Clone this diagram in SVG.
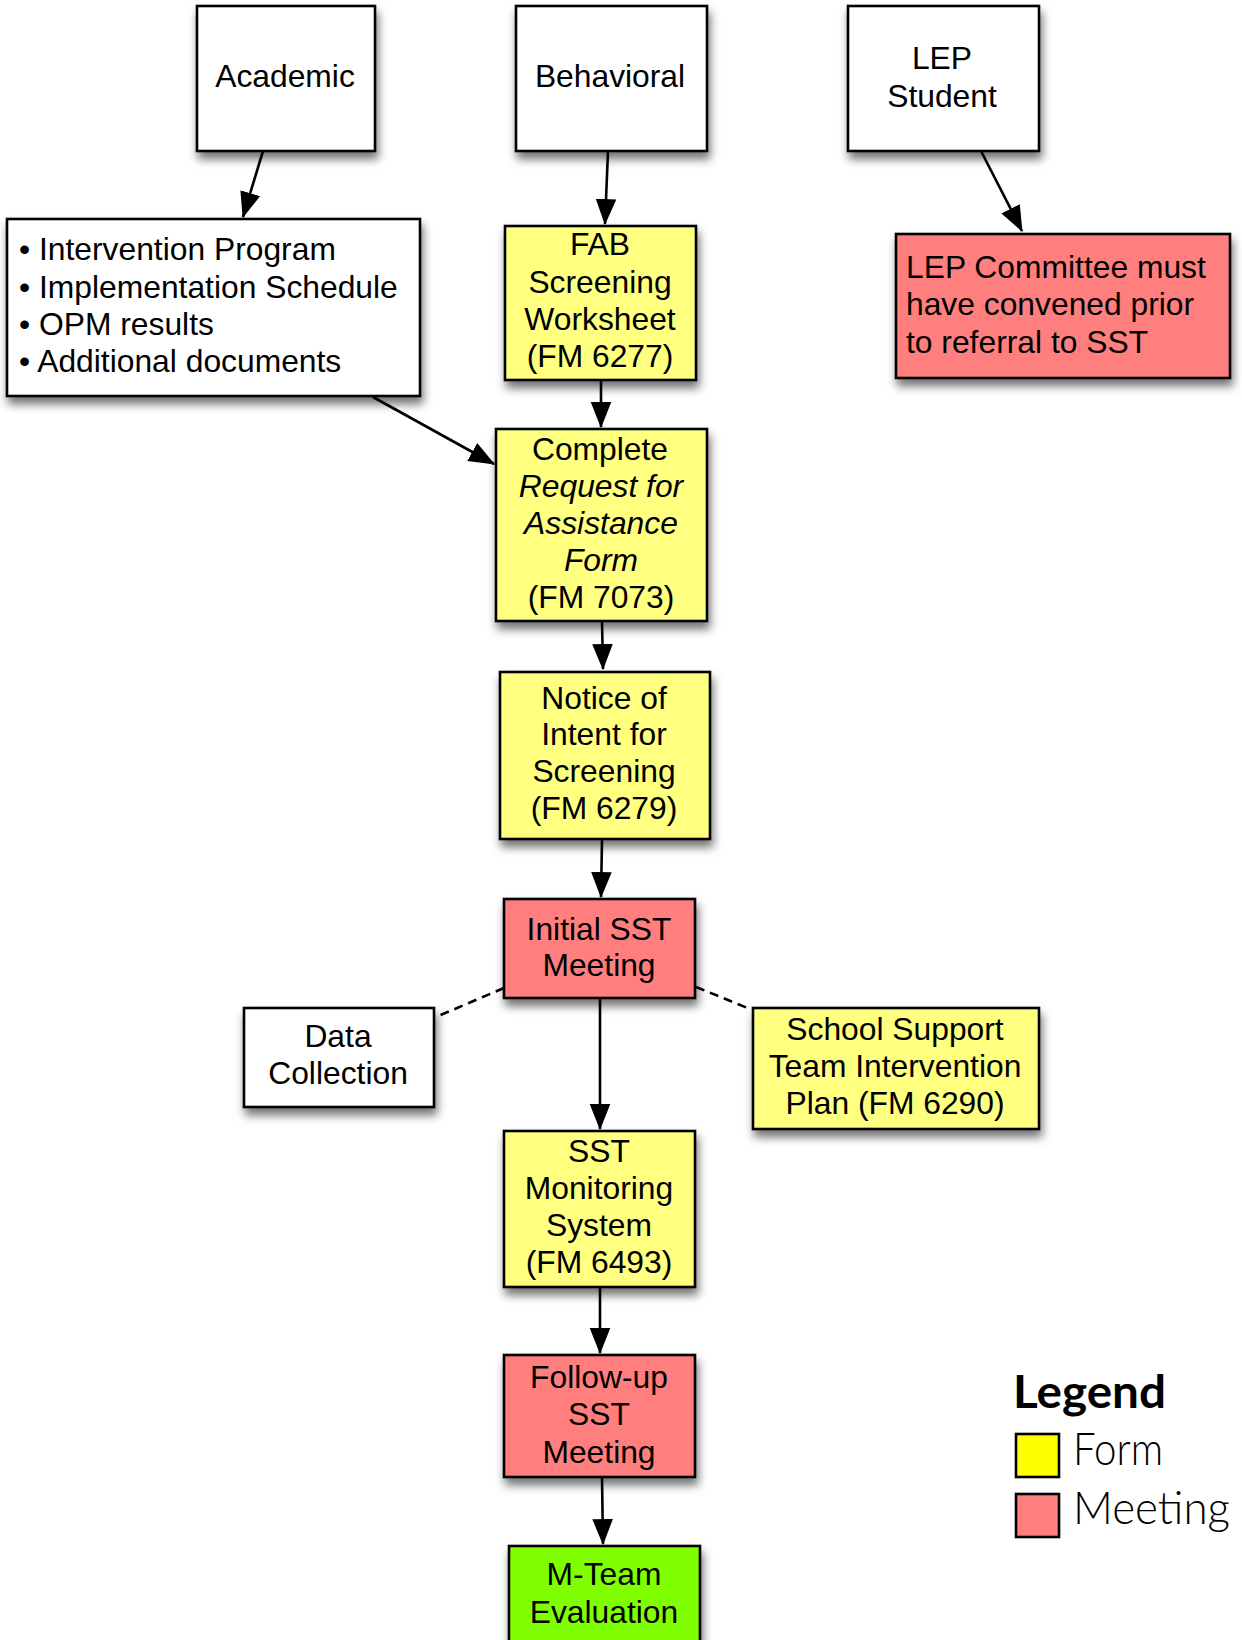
<svg xmlns="http://www.w3.org/2000/svg" width="1242" height="1640" viewBox="0 0 1242 1640">
<style>
.box{stroke:#000;stroke-width:2.6;filter:url(#sh)}
.w{fill:#fff}.y{fill:#FFFF80}.r{fill:#FF7F7F}.g{fill:#80FF00}
text{font-family:"Liberation Sans",Arial,sans-serif;font-size:31.8px;fill:#000}
.c{text-anchor:middle}
.i{font-style:italic}
.ln{stroke:#000;stroke-width:2.6;fill:none;marker-end:url(#ah)}
.dl{stroke:#000;stroke-width:2.6;fill:none;stroke-dasharray:9 6}
text.lg{font-family:Lato,"Noto Sans",sans-serif}
text.lgt{font-size:46px;font-weight:700}
text.lgi{font-size:45px;font-weight:300}
</style>
<defs>
<filter id="sh" x="-20%" y="-20%" width="150%" height="160%">
<feDropShadow dx="2" dy="7" stdDeviation="5" flood-color="#000" flood-opacity="0.55"/>
</filter>
<marker id="ah" markerUnits="userSpaceOnUse" markerWidth="26" markerHeight="22" viewBox="0 0 24 19" refX="23" refY="9.5" orient="auto">
<path d="M0,0 L24,9.5 L0,19 Z" fill="#000"/>
</marker>
</defs>
<rect width="1242" height="1640" fill="#fff"/>
<g id="connectors">
<line class="ln" x1="263" y1="151" x2="243" y2="217"/>
<line class="ln" x1="608" y1="151" x2="605" y2="224"/>
<line class="ln" x1="601" y1="380" x2="601" y2="427"/>
<line class="ln" x1="373" y1="397" x2="494" y2="464"/>
<line class="ln" x1="602" y1="621" x2="603" y2="669"/>
<line class="ln" x1="602" y1="839" x2="601" y2="897"/>
<line class="ln" x1="600" y1="998" x2="600" y2="1129"/>
<line class="ln" x1="600" y1="1287" x2="600" y2="1353"/>
<line class="ln" x1="602" y1="1477" x2="603" y2="1544"/>
<line class="ln" x1="981" y1="151" x2="1022" y2="231"/>
<line class="dl" x1="504" y1="988" x2="436" y2="1017"/>
<line class="dl" x1="696" y1="987" x2="750" y2="1009"/>
</g>
<g id="academic"><rect class="box w" x="197" y="6" width="178" height="145"/><text class="c" x="285" y="87">Academic</text></g>
<g id="behavioral"><rect class="box w" x="516" y="6" width="191" height="145"/><text class="c" x="610" y="87">Behavioral</text></g>
<g id="lep-student"><rect class="box w" x="848" y="6" width="191" height="145"/><text class="c" x="942" y="69">LEP</text><text class="c" x="942" y="106.5">Student</text></g>
<g id="documents"><rect class="box w" x="7" y="219" width="413" height="177"/>
<text x="19" y="260">• Intervention Program</text>
<text x="19" y="297.5">• Implementation Schedule</text>
<text x="19" y="335">• OPM results</text>
<text x="19" y="372">• Additional documents</text></g>
<g id="fab"><rect class="box y" x="505" y="226" width="191" height="154"/>
<text class="c" x="600" y="255">FAB</text><text class="c" x="600" y="292.5">Screening</text><text class="c" x="600" y="330">Worksheet</text><text class="c" x="600" y="367">(FM 6277)</text></g>
<g id="lep-committee"><rect class="box r" x="896" y="234" width="334" height="144"/>
<text x="906" y="277.5">LEP Committee must</text><text x="906" y="315">have convened prior</text><text x="906" y="352.5">to referral to SST</text></g>
<g id="complete"><rect class="box y" x="496" y="429" width="211" height="192"/>
<text class="c" x="600" y="460">Complete</text><text class="c i" x="601" y="497">Request for</text><text class="c i" x="601" y="534">Assistance</text><text class="c i" x="601" y="571">Form</text><text class="c" x="601" y="608">(FM 7073)</text></g>
<g id="notice"><rect class="box y" x="500" y="672" width="210" height="167"/>
<text class="c" x="604" y="708.5">Notice of</text><text class="c" x="604" y="745">Intent for</text><text class="c" x="604" y="782">Screening</text><text class="c" x="604" y="818.5">(FM 6279)</text></g>
<g id="initial-sst"><rect class="box r" x="504" y="899" width="191" height="99"/>
<text class="c" x="599" y="939.5">Initial SST</text><text class="c" x="599" y="976">Meeting</text></g>
<g id="data-collection"><rect class="box w" x="244" y="1008" width="190" height="99"/>
<text class="c" x="338" y="1046.5">Data</text><text class="c" x="338" y="1084">Collection</text></g>
<g id="intervention-plan"><rect class="box y" x="753" y="1008" width="286" height="121"/>
<text class="c" x="895" y="1039.5">School Support</text><text class="c" x="895" y="1076.5">Team Intervention</text><text class="c" x="895" y="1113.5">Plan (FM 6290)</text></g>
<g id="monitoring"><rect class="box y" x="504" y="1131" width="191" height="156"/>
<text class="c" x="599" y="1161.5">SST</text><text class="c" x="599" y="1198.5">Monitoring</text><text class="c" x="599" y="1235.5">System</text><text class="c" x="599" y="1272.5">(FM 6493)</text></g>
<g id="follow-up"><rect class="box r" x="504" y="1355" width="191" height="122"/>
<text class="c" x="599" y="1387.5">Follow-up</text><text class="c" x="599" y="1425">SST</text><text class="c" x="599" y="1462.5">Meeting</text></g>
<g id="m-team"><rect class="box g" x="509" y="1546" width="191" height="120"/>
<text class="c" x="604" y="1585">M-Team</text><text class="c" x="604" y="1622.5">Evaluation</text></g>
<g id="legend">
<text class="lg lgt" x="1013" y="1408" textLength="153" lengthAdjust="spacingAndGlyphs">Legend</text>
<rect x="1016" y="1434" width="43" height="43" fill="#FFFF00" stroke="#000" stroke-width="2.6"/>
<rect x="1016" y="1494" width="43" height="43" fill="#FF7F7F" stroke="#000" stroke-width="2.6"/>
<text class="lg lgi" x="1073" y="1465" textLength="90" lengthAdjust="spacingAndGlyphs">Form</text>
<text class="lg lgi" x="1073" y="1524" textLength="157" lengthAdjust="spacingAndGlyphs">Meeting</text>
</g>
</svg>
